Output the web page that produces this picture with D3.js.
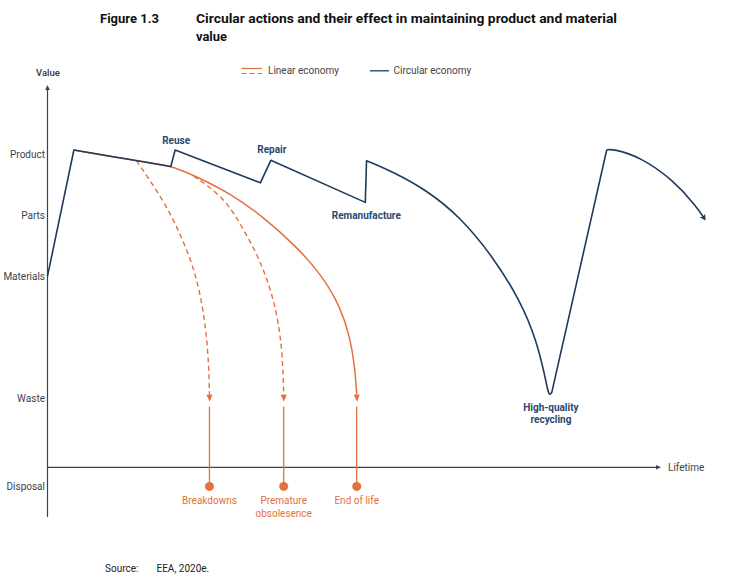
<!DOCTYPE html>
<html>
<head>
<meta charset="utf-8">
<script src="https://cdn.jsdelivr.net/npm/d3@7"></script>
<style>
  body { margin: 0; background: #fff; }
  svg { font-family: Roboto, "Noto Sans", sans-serif; }
</style>
</head>
<body>
<svg id="chart" width="743" height="577"></svg>
<script>
// value levels on the y axis
var levelNames = ["Product", "Parts", "Materials", "Waste", "Disposal"];
var levelValues = [82, 66, 50, 18, -5];

// circular economy path, [lifetime, value]
var circularSteps = [[0, 50], [4.3, 83], [20.1, 78.7], [20.8, 83], [34.7, 74.4], [36.4, 80.3], [51.8, 69.3], [52, 80.2]];
var circularDecline = [[52, 80.2], [56.3, 77.3], [61.8, 72.5], [67.2, 65.6], [72.6, 55.1], [77, 43.8], [79.7, 33.3], [81.1, 23.7], [81.6, 19.6], [81.9, 18.9], [82.2, 19.6]];
var circularRecovery = [[82.2, 19.6], [91.15, 83]];
var circularNext = [[91.15, 83], [92.2, 83.3], [96.6, 81.2], [101.95, 75.2], [105.8, 68.2], [107.1, 65]];

var circularLabels = ["Reuse", "Repair", "Remanufacture", "High-quality recycling"];

// linear economy paths
var linearMain = [[4.3, 83], [13.45, 80.4], [19.97, 79.1], [24.3, 76], [29.75, 71.7], [35.1, 65.6], [40.6, 57.7], [44.9, 49.9], [47.7, 42], [49.3, 34.2], [50.1, 26.3], [50.4, 19]];
var breakdownPath = [[14.5, 80.2], [18.9, 69.9], [21.6, 61.2], [23.8, 52.5], [25.1, 43.8], [25.9, 35.05], [26.3, 26.3], [26.4, 19]];
var obsolescencePath = [[23.8, 76.2], [28.65, 70.8], [31.4, 63.8], [34.1, 56], [36.3, 47.2], [37.6, 38.5], [38.3, 29.8], [38.5, 19]];

var disposalCauses = ["Breakdowns", "Premature|obsolesence", "End of life"];
var disposalX = [26.4, 38.5, 50.4];
var dropTop = 15.9;

var legendNames = ["Linear economy", "Circular economy"];

var navy = "#1e3a5c", navyText = "#27496f", orange = "#e2713d", grey = "#3a434d";

var svg = d3.select("#chart");

var x = d3.scaleLinear().domain([0, 100]).range([47.5, 661]);
var y = d3.scaleLinear().domain([-13, 100]).range([517, 85]);

// markers
var defs = svg.append("defs");
function marker(id, color, d, refX) {
  defs.append("marker")
      .attr("id", id)
      .attr("viewBox", "-1 -5 12 10")
      .attr("markerUnits", "userSpaceOnUse")
      .attr("markerWidth", 12).attr("markerHeight", 10)
      .attr("refX", refX).attr("refY", 0)
      .attr("orient", "auto")
      .append("path").attr("d", d).attr("fill", color);
}
marker("arrOrange", orange, "M0,-3L7,0L0,3Z", 0);
marker("arrNavy", navy, "M0,-3.2L6,0L0,3.2L1.5,0Z", 4);
marker("arrAxis", grey, "M0,-2.3L5,0L0,2.3Z", 0);

// title
svg.append("text").attr("x", 100).attr("y", 23)
   .attr("font-size", 13).attr("font-weight", 700).attr("fill", "#111")
   .text("Figure 1.3");
svg.append("text").attr("x", 196).attr("y", 23)
   .attr("font-size", 13).attr("font-weight", 700).attr("fill", "#111")
   .attr("textLength", 421).attr("lengthAdjust", "spacingAndGlyphs")
   .text("Circular actions and their effect in maintaining product and material");
svg.append("text").attr("x", 196).attr("y", 41)
   .attr("font-size", 13).attr("font-weight", 700).attr("fill", "#111")
   .attr("textLength", 31).attr("lengthAdjust", "spacingAndGlyphs")
   .text("value");

// legend
var lg = svg.append("g").attr("font-size", 10).attr("fill", "#444");
lg.append("line").attr("x1", 241.5).attr("x2", 262).attr("y1", 68.5).attr("y2", 68.5)
  .attr("stroke", orange).attr("stroke-width", 1.2);
lg.append("line").attr("x1", 241.5).attr("x2", 262).attr("y1", 73.5).attr("y2", 73.5)
  .attr("stroke", orange).attr("stroke-width", 1.2).attr("stroke-dasharray", "5,3");
lg.append("text").attr("x", 268).attr("y", 74).text(legendNames[0]);
lg.append("line").attr("x1", 370).attr("x2", 389).attr("y1", 70.8).attr("y2", 70.8)
  .attr("stroke", navy).attr("stroke-width", 1.3);
lg.append("text").attr("x", 393.5).attr("y", 74).text(legendNames[1]);

// axes
var yAxis = svg.append("g")
   .attr("transform", "translate(" + x(0) + ",0)")
   .call(d3.axisLeft(y).tickValues(levelValues)
           .tickFormat(function(d, i) { return levelNames[i]; })
           .tickSize(0).tickPadding(2.5));
yAxis.select(".domain").remove();
yAxis.attr("font-family", null);
yAxis.selectAll("text").attr("font-size", 10).attr("fill", grey);

svg.append("line")
   .attr("x1", x(0)).attr("x2", x(0)).attr("y1", y(-13)).attr("y2", y(100) + 5)
   .attr("stroke", grey).attr("stroke-width", 1.2)
   .attr("marker-end", "url(#arrAxis)");
svg.append("line")
   .attr("x1", x(0)).attr("x2", x(100) - 5).attr("y1", y(0)).attr("y2", y(0))
   .attr("stroke", grey).attr("stroke-width", 1.2)
   .attr("marker-end", "url(#arrAxis)");
svg.append("text").attr("x", 48).attr("y", 76).attr("text-anchor", "middle")
   .attr("font-size", 9.5).attr("font-weight", 500).attr("fill", "#333").text("Value");
svg.append("text").attr("x", x(100) + 7).attr("y", y(0) + 3.5)
   .attr("font-size", 10).attr("fill", grey).text("Lifetime");

var straight = d3.line().x(function(d) { return x(d[0]); }).y(function(d) { return y(d[1]); });
var smooth = d3.line().x(function(d) { return x(d[0]); }).y(function(d) { return y(d[1]); })
               .curve(d3.curveBasis);

// linear economy
svg.append("path").attr("d", smooth(linearMain))
   .attr("fill", "none").attr("stroke", orange).attr("stroke-width", 1.5)
   .attr("marker-end", "url(#arrOrange)");
[breakdownPath, obsolescencePath].forEach(function(p) {
  svg.append("path").attr("d", smooth(p))
     .attr("fill", "none").attr("stroke", orange).attr("stroke-width", 1.4)
     .attr("stroke-dasharray", "5,3.5")
     .attr("marker-end", "url(#arrOrange)");
});

svg.selectAll(".drop").data(disposalX).enter().append("line")
   .attr("class", "drop")
   .attr("x1", function(d) { return x(d); }).attr("x2", function(d) { return x(d); })
   .attr("y1", y(dropTop)).attr("y2", y(levelValues[4]))
   .attr("stroke", orange).attr("stroke-width", 1.3);
svg.selectAll(".dot").data(disposalX).enter().append("circle")
   .attr("class", "dot")
   .attr("cx", function(d) { return x(d); }).attr("cy", y(levelValues[4]))
   .attr("r", 4.5).attr("fill", orange);
svg.selectAll(".cause").data(disposalCauses).enter().append("text")
   .attr("class", "cause")
   .attr("text-anchor", "middle").attr("font-size", 10).attr("fill", orange)
   .attr("x", function(d, i) { return x(disposalX[i]); })
   .attr("y", y(levelValues[4]) + 18)
   .each(function(d, i) {
     var t = d3.select(this);
     d.split("|").forEach(function(s, j) {
       t.append("tspan").attr("x", x(disposalX[i])).attr("dy", j ? 12.4 : 0).text(s);
     });
   });

// circular economy, one continuous path
var dCirc = straight(circularSteps)
  + smooth(circularDecline).replace(/^M/, "L")
  + straight(circularRecovery).replace(/^M/, "L")
  + smooth(circularNext).replace(/^M/, "L");
svg.append("path").attr("d", dCirc)
   .attr("fill", "none").attr("stroke", navy).attr("stroke-width", 1.6)
   .attr("stroke-linejoin", "round")
   .attr("marker-end", "url(#arrNavy)");

// labels tied to the path corners
var anchors = [
  { p: circularSteps[3], dy: -6 },
  { p: circularSteps[5], dy: -7 },
  { p: circularSteps[6], dy: 16.5 },
  { p: circularDecline[9], dy: 15.5 }
];
svg.selectAll(".clabel").data(circularLabels).enter().append("text")
   .attr("class", "clabel")
   .attr("text-anchor", "middle").attr("font-size", 10).attr("font-weight", 700)
   .attr("fill", navyText)
   .attr("y", function(d, i) { return y(anchors[i].p[1]) + anchors[i].dy; })
   .each(function(d, i) {
     var t = d3.select(this), cx = x(anchors[i].p[0]) + 1;
     var parts = d === "High-quality recycling" ? ["High-quality", "recycling"] : [d];
     parts.forEach(function(s, j) {
       t.append("tspan").attr("x", cx).attr("dy", j ? 12.4 : 0).text(s);
     });
   });

// source
svg.append("text").attr("x", 105).attr("y", 572).attr("font-size", 10).attr("fill", "#222").text("Source:");
svg.append("text").attr("x", 156.5).attr("y", 572).attr("font-size", 10).attr("fill", "#222").text("EEA, 2020e.");
</script>
</body>
</html>
